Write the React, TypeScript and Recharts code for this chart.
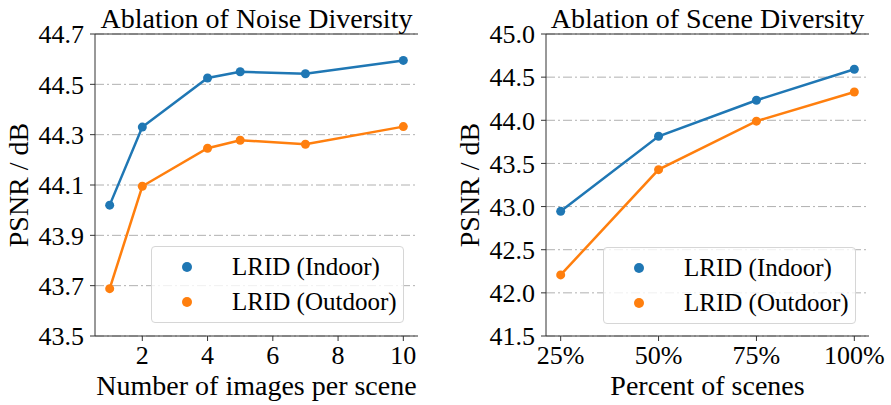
import React from "react";
import { LineChart, Line, XAxis, YAxis, CartesianGrid } from "recharts";

const FONT = "'Liberation Serif', 'Times New Roman', serif";
const BLUE = "#1f77b4";
const ORANGE = "#ff7f0e";
const SPINE = "#333333";
const GRID = "#b0b0b0";

// Left: Ablation of Noise Diversity
const noiseImages = [1, 2, 4, 5, 7, 10];
const noiseIndoor = [44.02, 44.33, 44.525, 44.55, 44.542, 44.595];
const noiseOutdoor = [43.688, 44.095, 44.246, 44.278, 44.262, 44.332];
const noiseXTicks = [2, 4, 6, 8, 10];
const noiseYTicks = [43.5, 43.7, 43.9, 44.1, 44.3, 44.5, 44.7];

// Right: Ablation of Scene Diversity
const scenePercent = [25, 50, 75, 100];
const sceneIndoor = [42.945, 43.815, 44.232, 44.592];
const sceneOutdoor = [42.208, 43.428, 43.99, 44.328];
const sceneXTicks = [25, 50, 75, 100];
const sceneYTicks = [41.5, 42.0, 42.5, 43.0, 43.5, 44.0, 44.5, 45.0];

const seriesNames = ["LRID (Indoor)", "LRID (Outdoor)"];
const seriesColors = [BLUE, ORANGE];

const noiseData = noiseImages.map((x, i) => ({
  x,
  indoor: noiseIndoor[i],
  outdoor: noiseOutdoor[i],
}));

const sceneData = scenePercent.map((x, i) => ({
  x,
  indoor: sceneIndoor[i],
  outdoor: sceneOutdoor[i],
}));

const tickStyle = { fill: "#000", fontSize: 26, fontFamily: FONT };

function LegendBox({ left, top }: { left: number; top: number }) {
  return (
    <div
      style={{
        position: "absolute",
        left,
        top,
        width: 253,
        height: 77,
        boxSizing: "border-box",
        border: "1px solid #d6d6d6",
        borderRadius: 4,
        background: "rgba(255,255,255,0.8)",
        fontFamily: FONT,
        fontSize: 25,
        color: "#000",
      }}
    >
      {seriesNames.map((name, i) => (
        <div key={name}>
          <div
            style={{
              position: "absolute",
              left: 30,
              top: 15 + i * 35,
              width: 10,
              height: 10,
              borderRadius: 5,
              background: seriesColors[i],
            }}
          />
          <div
            style={{
              position: "absolute",
              left: 80,
              top: 5 + i * 35,
              lineHeight: "30px",
              whiteSpace: "nowrap",
            }}
          >
            {name}
          </div>
        </div>
      ))}
    </div>
  );
}

interface PanelProps {
  data: Array<{ x: number; indoor: number; outdoor: number }>;
  title: string;
  xLabel: string;
  xDomain: [number, number];
  xTicks: number[];
  xFormat: (v: number) => string;
  yDomain: [number, number];
  yTicks: number[];
  width: number;
  yAxisWidth: number;
  marginRight: number;
}

function Panel(p: PanelProps) {
  return (
    <LineChart
      width={p.width}
      height={405}
      data={p.data}
      margin={{ top: 0, right: p.marginRight, bottom: 0, left: 0 }}
      style={{ fontFamily: FONT }}
    >
      <CartesianGrid
        vertical={false}
        stroke={GRID}
        strokeWidth={1}
        strokeDasharray="9 3 2 3"
      />
      <XAxis
        xAxisId="top"
        orientation="top"
        type="number"
        dataKey="x"
        domain={p.xDomain}
        allowDataOverflow
        height={34}
        tick={false}
        tickLine={false}
        axisLine={{ stroke: SPINE, strokeWidth: 1 }}
        label={{
          value: p.title,
          position: "center",
          fill: "#000",
          fontSize: 28,
          fontFamily: FONT,
          dy: 1,
        }}
      />
      <XAxis
        type="number"
        dataKey="x"
        domain={p.xDomain}
        ticks={p.xTicks}
        tickFormatter={p.xFormat}
        allowDataOverflow
        height={69}
        tick={tickStyle}
        tickSize={5}
        tickMargin={5}
        tickLine={{ stroke: SPINE }}
        axisLine={{ stroke: SPINE, strokeWidth: 1 }}
        label={{
          value: p.xLabel,
          position: "insideBottom",
          offset: 10,
          fill: "#000",
          fontSize: 28,
          fontFamily: FONT,
        }}
      />
      <YAxis
        type="number"
        domain={p.yDomain}
        ticks={p.yTicks}
        tickFormatter={(v: number) => v.toFixed(1)}
        allowDataOverflow
        width={p.yAxisWidth}
        tick={tickStyle}
        tickSize={5}
        tickMargin={6}
        tickLine={{ stroke: SPINE }}
        axisLine={{ stroke: SPINE, strokeWidth: 1 }}
        label={{
          value: "PSNR / dB",
          angle: -90,
          position: "insideLeft",
          offset: p.yAxisWidth - 77,
          fill: "#000",
          fontSize: 28,
          fontFamily: FONT,
          style: { textAnchor: "middle", fontFamily: FONT },
        }}
      />
      <YAxis
        yAxisId="right"
        orientation="right"
        type="number"
        domain={p.yDomain}
        allowDataOverflow
        width={0}
        tick={false}
        tickLine={false}
        axisLine={{ stroke: SPINE, strokeWidth: 1 }}
      />
      <Line
        dataKey="indoor"
        name={seriesNames[0]}
        stroke={BLUE}
        strokeWidth={2.5}
        dot={{ r: 4.5, fill: BLUE, stroke: BLUE, strokeWidth: 0 }}
        activeDot={false}
        isAnimationActive={false}
      />
      <Line
        dataKey="outdoor"
        name={seriesNames[1]}
        stroke={ORANGE}
        strokeWidth={2.5}
        dot={{ r: 4.5, fill: ORANGE, stroke: ORANGE, strokeWidth: 0 }}
        activeDot={false}
        isAnimationActive={false}
      />
    </LineChart>
  );
}

export default function App() {
  return (
    <div
      style={{
        position: "absolute",
        left: 0,
        top: 0,
        width: 891,
        height: 405,
        background: "#fff",
        fontFamily: FONT,
      }}
    >
      <div style={{ position: "absolute", left: 0, top: 0 }}>
        <Panel
          data={noiseData}
          title="Ablation of Noise Diversity"
          xLabel="Number of images per scene"
          xDomain={[0.55, 10.45]}
          xTicks={noiseXTicks}
          xFormat={(v) => String(v)}
          yDomain={[43.5, 44.7]}
          yTicks={noiseYTicks}
          width={445}
          yAxisWidth={95}
          marginRight={27}
        />
        <LegendBox left={151} top={246} />
      </div>
      <div style={{ position: "absolute", left: 445, top: 0 }}>
        <Panel
          data={sceneData}
          title="Ablation of Scene Diversity"
          xLabel="Percent of scenes"
          xDomain={[21.25, 103.75]}
          xTicks={sceneXTicks}
          xFormat={(v) => `${v}%`}
          yDomain={[41.5, 45.0]}
          yTicks={sceneYTicks}
          width={446}
          yAxisWidth={101}
          marginRight={22}
        />
        <LegendBox left={158} top={247} />
      </div>
    </div>
  );
}
